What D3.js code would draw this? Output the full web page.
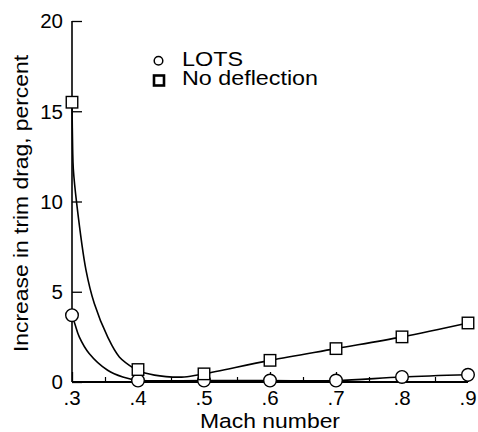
<!DOCTYPE html>
<html><head><meta charset="utf-8">
<script src="https://cdn.jsdelivr.net/npm/d3@7"></script>
<style>
html,body{margin:0;padding:0;background:#fff;}
text{font-family:"Liberation Sans",Arial,Helvetica,sans-serif;fill:#000;}
</style></head>
<body>
<svg id="chart" width="478" height="432"></svg>
<script>
// ---- data ----
const mach = [0.3, 0.4, 0.5, 0.6, 0.7, 0.8, 0.9];
const lots = [3.7, 0.08, 0.08, 0.08, 0.08, 0.28, 0.4];
const noDeflection = [15.5, 0.69, 0.45, 1.2, 1.85, 2.5, 3.27];
// faired curves
const lotsCurveMach  = [0.3, 0.3045, 0.311, 0.326, 0.354, 0.377, 0.4, 0.5, 0.6, 0.7, 0.8, 0.9];
const lotsCurveValue = [3.7, 3.2, 2.5, 1.58, 0.65, 0.28, 0.1, 0.08, 0.08, 0.08, 0.28, 0.4];
const noDefCurveMach  = [0.3, 0.301, 0.302, 0.3071, 0.3212, 0.3338, 0.354, 0.3717, 0.397, 0.4, 0.425, 0.4424, 0.47, 0.5, 0.6, 0.7, 0.8, 0.9];
const noDefCurveValue = [15.5, 12.9, 11.8, 9.9, 6.2, 4.35, 2.5, 1.39, 0.68, 0.62, 0.38, 0.3, 0.28, 0.45, 1.2, 1.85, 2.5, 3.27];
const xTicks = [0.3, 0.4, 0.5, 0.6, 0.7, 0.8, 0.9];
const xTickLabels = [".3", ".4", ".5", ".6", ".7", ".8", ".9"];
const xMinorTicks = [0.35, 0.45, 0.55, 0.65, 0.75, 0.85];
const yTicks = [0, 5, 10, 15, 20];
const legendLabels = ["LOTS", "No deflection"];
const xTitle = "Mach number";
const yTitle = "Increase in trim drag, percent";

// ---- drawing ----
const svg = d3.select("#chart");
const x = d3.scaleLinear().domain([0.3, 0.9]).range([72, 468]);
const y = d3.scaleLinear().domain([0, 20]).range([382, 21]);
const FS = 20.5;

// y axis (ticks inward to the right)
const yAxis = svg.append("g").attr("transform", `translate(${x(0.3)},0)`)
  .call(d3.axisRight(y).tickValues(yTicks).tickSize(10).tickFormat(""));
yAxis.select(".domain").attr("d", `M0,${y(20)}V${y(0)}`).attr("stroke", "#000").attr("stroke-width", 1.6);
yAxis.selectAll(".tick line").attr("stroke", "#000").attr("stroke-width", 1.3);
svg.append("g").selectAll("text").data(yTicks).join("text")
  .attr("x", 63).attr("y", d => y(d)).attr("dy", "0.36em")
  .attr("text-anchor", "end").attr("font-size", FS).text(d => d);

// x axis (ticks inward, upward)
const xAxis = svg.append("g").attr("transform", `translate(0,${y(0)})`)
  .call(d3.axisTop(x).tickValues(xTicks).tickSize(10).tickFormat(""));
xAxis.select(".domain").attr("d", `M${x(0.3)},0H${x(0.9)}`).attr("stroke", "#000").attr("stroke-width", 2.2);
xAxis.selectAll(".tick line").attr("stroke", "#000").attr("stroke-width", 1.3);
const xMinor = svg.append("g").attr("transform", `translate(0,${y(0)})`)
  .call(d3.axisTop(x).tickValues(xMinorTicks).tickSize(5).tickFormat(""));
xMinor.select(".domain").remove();
xMinor.selectAll(".tick line").attr("stroke", "#000").attr("stroke-width", 1.2);
svg.append("g").selectAll("text").data(xTicks).join("text")
  .attr("x", (d) => x(d)).attr("y", 405).attr("text-anchor", "middle")
  .attr("font-size", FS).text((d, i) => xTickLabels[i]);

// titles
svg.append("text").attr("x", 270).attr("y", 428).attr("text-anchor", "middle")
  .attr("font-size", FS).attr("textLength", 140).attr("lengthAdjust", "spacingAndGlyphs").text(xTitle);
svg.append("text").attr("transform", "translate(28,203.5) rotate(-90)").attr("text-anchor", "middle")
  .attr("font-size", FS).attr("textLength", 297).attr("lengthAdjust", "spacingAndGlyphs").text(yTitle);

// curves
const line = d3.line().x(d => x(d[0])).y(d => y(d[1])).curve(d3.curveCatmullRom.alpha(0.5));
svg.append("path").datum(d3.zip(noDefCurveMach, noDefCurveValue)).attr("d", line)
  .attr("fill", "none").attr("stroke", "#000").attr("stroke-width", 1.6);
svg.append("path").datum(d3.zip(lotsCurveMach, lotsCurveValue)).attr("d", line)
  .attr("fill", "none").attr("stroke", "#000").attr("stroke-width", 1.6);

// markers
svg.append("g").selectAll("circle").data(d3.zip(mach, lots)).join("circle")
  .attr("cx", d => x(d[0])).attr("cy", d => y(d[1])).attr("r", 6.3)
  .attr("fill", "#fff").attr("stroke", "#000").attr("stroke-width", 1.4);
const S = 11.5;
svg.append("g").selectAll("rect").data(d3.zip(mach, noDeflection)).join("rect")
  .attr("x", d => x(d[0]) - S / 2).attr("y", d => y(d[1]) - S / 2).attr("width", S).attr("height", S)
  .attr("fill", "#fff").attr("stroke", "#000").attr("stroke-width", 1.4);

// legend
svg.append("circle").attr("cx", 158.5).attr("cy", 60.8).attr("r", 4.3)
  .attr("fill", "#fff").attr("stroke", "#000").attr("stroke-width", 1.5);
svg.append("rect").attr("x", 154).attr("y", 75.5).attr("width", 10).attr("height", 10)
  .attr("fill", "#fff").attr("stroke", "#000").attr("stroke-width", 2.6);
svg.append("text").attr("x", 182).attr("y", 65.7).attr("font-size", FS)
  .attr("textLength", 61).attr("lengthAdjust", "spacingAndGlyphs").text(legendLabels[0]);
svg.append("text").attr("x", 182).attr("y", 85).attr("font-size", FS)
  .attr("textLength", 136).attr("lengthAdjust", "spacingAndGlyphs").text(legendLabels[1]);
</script>
</body></html>
